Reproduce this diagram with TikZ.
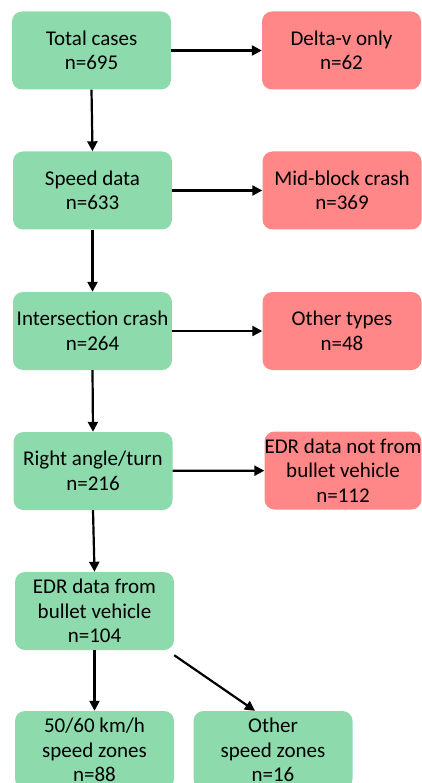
\documentclass[tikz,border=0pt]{standalone}
\usepackage{fontspec}
\setmainfont{Carlito}
\usetikzlibrary{arrows.meta}
\definecolor{boxgreen}{RGB}{141,218,172}
\definecolor{boxred}{RGB}{255,135,135}
\tikzset{
  basebox/.style={rounded corners=10pt, minimum width=159pt, minimum height=78pt,
    inner sep=0pt, align=center, font=\fontsize{21}{24.5}\selectfont, text=black},
  gbox/.style={basebox, fill=boxgreen},
  rbox/.style={basebox, fill=boxred},
  arr/.style={line width=2.2pt, -{Triangle[length=10pt,width=10pt]}}
}
\begin{document}
\begin{tikzpicture}[x=1pt,y=-1pt]
\useasboundingbox (0,0) rectangle (422,783);
\clip (0,0) rectangle (422,783);
\node[gbox] (g1) at (91.5,50.5) {Total cases\\n=695};
\node[gbox] (g2) at (92.5,190.5) {Speed data\\n=633};
\node[gbox] (g3) at (92.5,331) {Intersection crash\\n=264};
\node[gbox] (g4) at (93,471) {Right angle/turn\\n=216};
\node[gbox] (g5) at (94.5,611) {EDR data from\\bullet vehicle\\n=104};
\node[gbox] (g6) at (94.5,750) {50/60 km/h\\speed zones\\n=88};
\node[gbox] (g7) at (273,750) {Other\\speed zones\\n=16};
\node[rbox] (r1) at (341.5,50.5) {Delta-v only\\n=62};
\node[rbox] (r2) at (342,190.5) {Mid-block crash\\n=369};
\node[rbox] (r3) at (342,331) {Other types\\n=48};
\node[rbox, minimum width=156pt] (r4) at (343,470.5) {EDR data not from\\bullet vehicle\\n=112};
\draw[arr] (g1) -- (r1);
\draw[arr] (g2) -- (r2);
\draw[arr] (g3) -- (r3);
\draw[arr] (g4) -- (r4);
\draw[arr] (g1.south) -- (g2.north);
\draw[arr] (g2.south) -- (g3.north);
\draw[arr] (g3.south) -- (g4.north);
\draw[arr] (g4.south) -- (g5.north);
\draw[arr] (g5.south) -- (g6.north);
\draw[arr] ([yshift=-5pt]g5.south east) -- ([xshift=-18pt]g7.north);
\end{tikzpicture}
\end{document}
